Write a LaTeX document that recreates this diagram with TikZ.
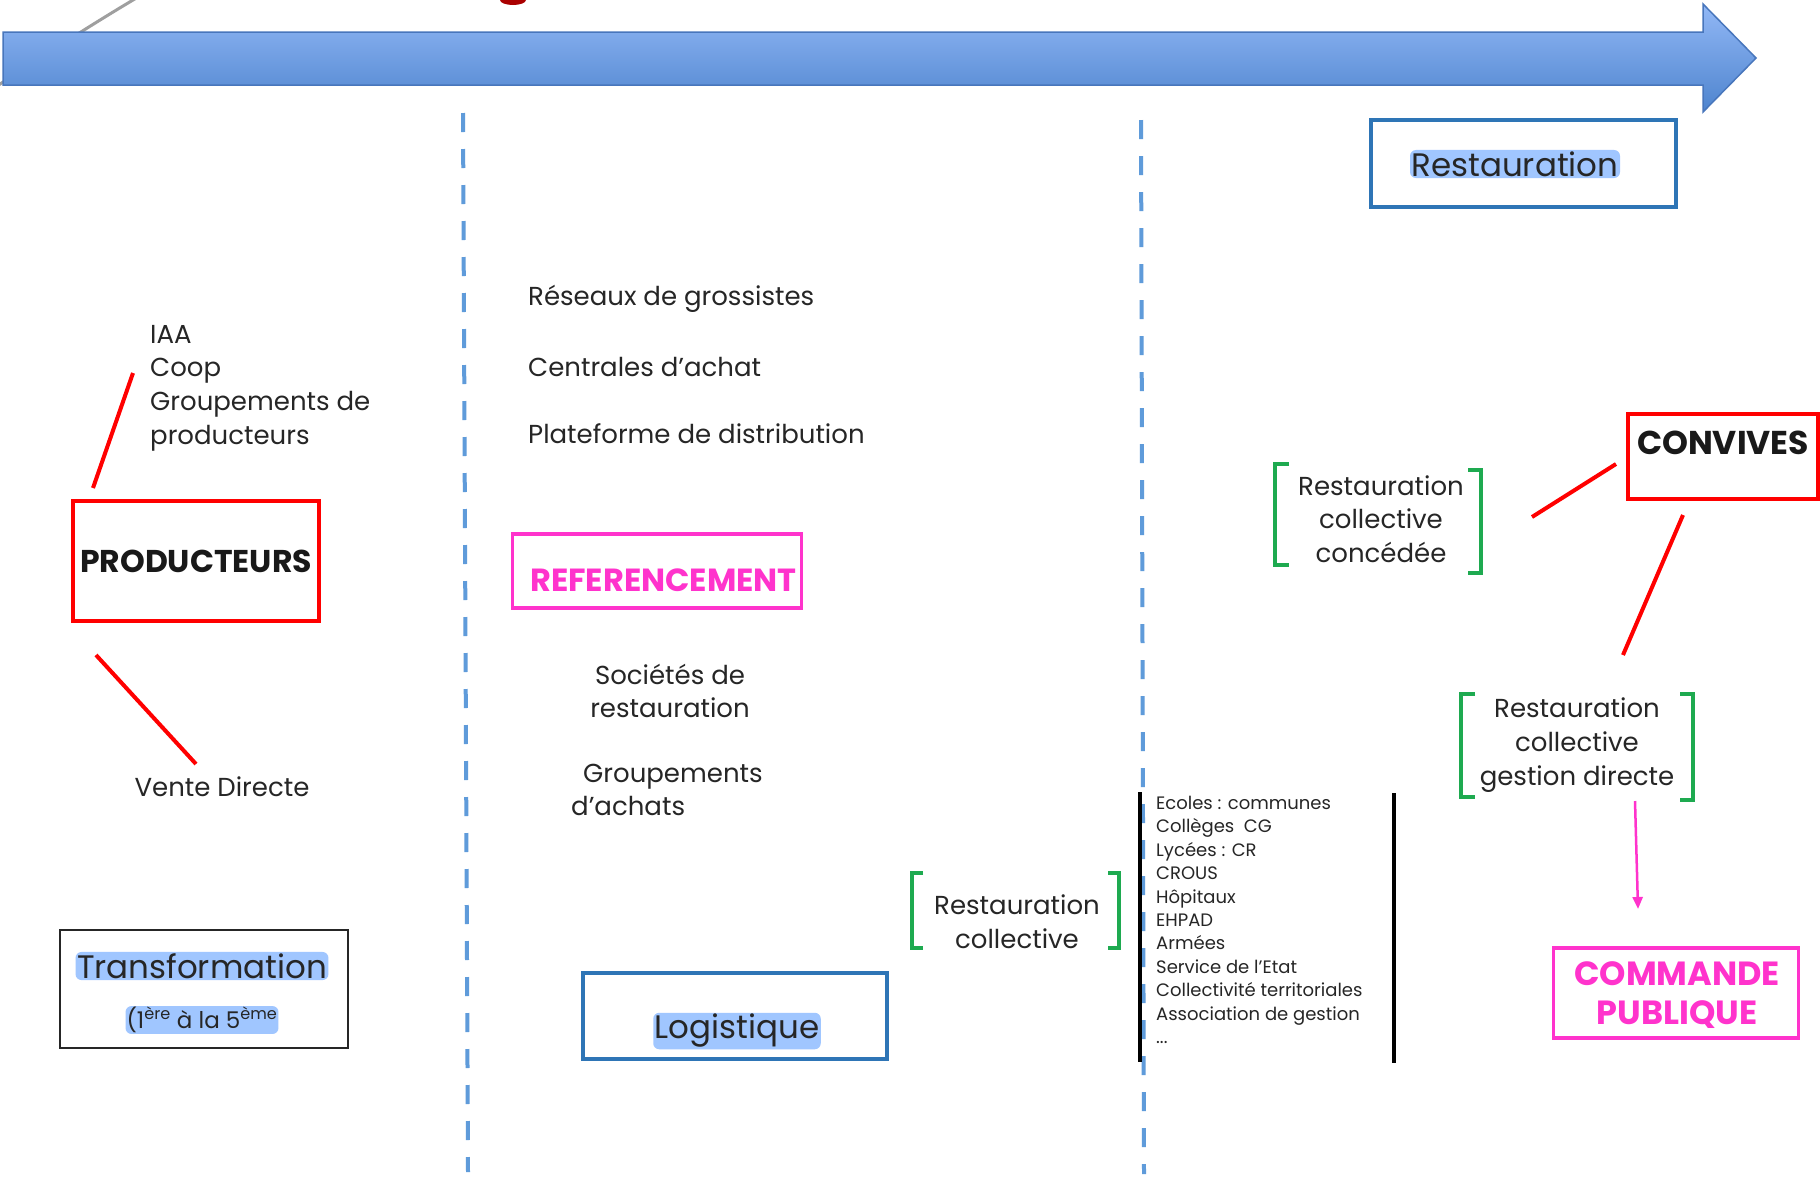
\documentclass[tikz,border=0pt]{standalone}
\usepackage{fontspec}
\setmainfont{Poppins}
\usetikzlibrary{arrows.meta,calc}

\definecolor{arrowtop}{RGB}{146,184,246}
\definecolor{arrowbot}{RGB}{78,132,206}
\definecolor{arrowedge}{RGB}{72,118,188}
\definecolor{dashblue}{RGB}{95,155,218}
\definecolor{boxblue}{RGB}{46,117,182}
\definecolor{pinkish}{RGB}{255,51,204}
\definecolor{brgreen}{RGB}{30,170,80}
\definecolor{glowblue}{RGB}{160,198,255}
\definecolor{titlered}{RGB}{170,0,0}

\newcommand{\sizeM}{\fontsize{26}{33.7}\selectfont}
\newcommand{\sizeL}{\fontsize{32.5}{38}\selectfont}
\newcommand{\sizeS}{\fontsize{18}{23.4}\selectfont}
\newcommand{\sizeB}{\fontsize{31.5}{36}\selectfont\bfseries}

\tikzset{
  x=1pt, y=-1pt,
  txt/.style={inner sep=0pt, font=\sizeM, text=black!85},
  redbox/.style={draw=red, line width=4pt, inner sep=0pt},
  bluebox/.style={draw=boxblue, line width=4pt, inner sep=0pt},
  pinkbox/.style={draw=pinkish, line width=3.5pt, inner sep=0pt},
  glowtxt/.style={fill=glowblue, rounded corners=6pt, inner sep=1.5pt, text=black!85},
  redline/.style={draw=red, line width=4pt},
  bracket/.style={draw=brgreen, line width=3.5pt},
  divider/.style={draw=dashblue, line width=4pt, dash pattern=on 19pt off 17pt},
  listline/.style={draw=black, line width=4pt}
}

\begin{document}
\begin{tikzpicture}
\useasboundingbox (0,0) rectangle (1820,1176);
\fill[white] (0,0) rectangle (1820,1176);

% stray lines behind the timeline arrow
\draw[gray!75, line width=3pt] (-6,88) .. controls (40,58) and (95,22) .. (150,-10);
\fill[titlered] (513,0) ellipse (13 and 5);

% timeline arrow
\coordinate (a1) at (3,32);
\coordinate (a2) at (1703,32);
\coordinate (a3) at (1703,4);
\coordinate (a4) at (1756,58);
\coordinate (a5) at (1703,112);
\coordinate (a6) at (1703,85);
\coordinate (a7) at (3,85);
\shade[top color=arrowtop, bottom color=arrowbot] (a1) -- (a2) -- (a3) -- (a4) -- (a5) -- (a6) -- (a7) -- cycle;
\draw[arrowedge, line width=1.5pt, line join=miter] (a1) -- (a2) -- (a3) -- (a4) -- (a5) -- (a6) -- (a7) -- cycle;

% column dividers
\coordinate (d1t) at (463,113);
\coordinate (d1b) at (468,1172);
\coordinate (d2t) at (1141,120);
\coordinate (d2b) at (1144,1174);
\draw[divider] (d1t) -- (d1b);
\draw[divider] (d2t) -- (d2b);

% ---------- producers column ----------
\node[txt, anchor=west, align=left] (prodlist) at (150,388) {IAA\\Coop\\Groupements de\\producteurs};
\node[redbox, minimum width=246pt, minimum height=120pt] (prod) at (196,561) {};
\node[inner sep=0pt, font=\sizeB, text=black!90] (prodlbl) at (196,561) {PRODUCTEURS};
\node[txt] (vente) at (222,787) {Vente Directe};
\coordinate (pl1) at (133,373);
\coordinate (pl2) at (93,488);
\coordinate (pv1) at (96,655);
\coordinate (pv2) at (196,764);
\draw[redline] (pl1) -- (pl2);
\draw[redline] (pv1) -- (pv2);

\node[draw=black!85, line width=2.5pt, minimum width=288pt, minimum height=118pt] (transf) at (204,989) {};
\node[glowtxt, font=\sizeL] (transflbl) at (202,966) {Transformation};
\node[glowtxt, font=\fontsize{23}{26}\selectfont, inner sep=1pt] (transfsub) at (202,1020) {(1\textsuperscript{ère} à la 5\textsuperscript{ème}};

% ---------- distribution column ----------
\node[txt, anchor=west] (reseaux) at (528,299) {Réseaux de grossistes};
\node[txt, anchor=west] (centrales) at (528,367) {Centrales d’achat};
\node[txt, anchor=west] (plateforme) at (528,434) {Plateforme de distribution};

\node[pinkbox, minimum width=289pt, minimum height=74pt] (refbox) at (657,571) {};
\node[inner sep=0pt, anchor=west, font=\fontsize{32}{36}\selectfont\bfseries, text=pinkish] (reflbl) at (530,580) {REFERENCEMENT};

\node[txt, align=center] (societes) at (670,691) {Sociétés de\\restauration};
\node[txt, align=left, anchor=west] (grpach) at (571,790) {\hspace*{12pt}Groupements\\d’achats};

\node[bluebox, minimum width=304pt, minimum height=86pt] (logbox) at (735,1016) {};
\node[glowtxt, font=\sizeL] (loglbl) at (737,1031) {Logistique};

\node[txt, align=center] (rc) at (1017,922) {Restauration\\collective};
\coordinate (rcl1) at (923,873); \coordinate (rcl2) at (912,873);
\coordinate (rcl3) at (912,948); \coordinate (rcl4) at (923,948);
\coordinate (rcr1) at (1108,873); \coordinate (rcr2) at (1119,873);
\coordinate (rcr3) at (1119,948); \coordinate (rcr4) at (1108,948);
\draw[bracket] (rcl1) -- (rcl2) -- (rcl3) -- (rcl4);
\draw[bracket] (rcr1) -- (rcr2) -- (rcr3) -- (rcr4);

% ---------- catering column ----------
\coordinate (ll1) at (1140,792); \coordinate (ll2) at (1140,1062);
\coordinate (lr1) at (1394,793); \coordinate (lr2) at (1394,1063);
\draw[listline] (ll1) -- (ll2);
\draw[listline] (lr1) -- (lr2);
\node[inner sep=0pt, anchor=north west, align=left, font=\sizeS, text=black!85] (publist) at (1156,796)
  {Ecoles : communes\\Collèges\ \ CG\\Lycées : CR\\CROUS\\Hôpitaux\\EHPAD\\Armées\\Service de l’Etat\\Collectivité territoriales\\Association de gestion\\...};

\node[bluebox, minimum width=305pt, minimum height=87pt] (restbox) at (1523,163) {};
\node[glowtxt, font=\sizeL] (restlbl) at (1515,164) {Restauration};

\node[txt, align=center] (rcc) at (1381,519) {Restauration\\collective\\concédée};
\coordinate (ccl1) at (1289,464); \coordinate (ccl2) at (1275,464);
\coordinate (ccl3) at (1275,565); \coordinate (ccl4) at (1289,565);
\coordinate (ccr1) at (1468,470); \coordinate (ccr2) at (1481,470);
\coordinate (ccr3) at (1481,573); \coordinate (ccr4) at (1468,573);
\draw[bracket] (ccl1) -- (ccl2) -- (ccl3) -- (ccl4);
\draw[bracket] (ccr1) -- (ccr2) -- (ccr3) -- (ccr4);

\node[draw=red, line width=4pt, minimum width=190pt, minimum height=85pt, inner sep=0pt] (conv) at (1723,456) {};
\node[inner sep=0pt, font=\fontsize{33}{36}\selectfont\bfseries, text=black!90] (convlbl) at (1723,443) {CONVIVES};

\node[txt, align=center] (rcgd) at (1577,745) {Restauration\\collective\\gestion directe};
\coordinate (gdl1) at (1475,694); \coordinate (gdl2) at (1461,694);
\coordinate (gdl3) at (1461,797); \coordinate (gdl4) at (1475,797);
\coordinate (gdr1) at (1680,694); \coordinate (gdr2) at (1693,694);
\coordinate (gdr3) at (1693,800); \coordinate (gdr4) at (1680,800);
\draw[bracket] (gdl1) -- (gdl2) -- (gdl3) -- (gdl4);
\draw[bracket] (gdr1) -- (gdr2) -- (gdr3) -- (gdr4);

\coordinate (cv1) at (1532,517); \coordinate (cv2) at (1616,464);
\coordinate (cv3) at (1683,515); \coordinate (cv4) at (1623,655);
\draw[redline] (cv1) -- (cv2);
\draw[redline] (cv3) -- (cv4);

\node[pinkbox, minimum width=245pt, minimum height=90pt] (cmdbox) at (1676,993) {};
\node[inner sep=0pt, align=center, font=\fontsize{33.5}{39}\selectfont\bfseries, text=pinkish] (cmdlbl) at (1677,995) {COMMANDE\\PUBLIQUE};

\coordinate (pa1) at (1635,801);
\coordinate (pa2) at (1638,909);
\draw[pinkish, line width=2.5pt, -{Triangle[length=12pt,width=10pt]}] (pa1) -- (pa2);
\end{tikzpicture}
\end{document}
